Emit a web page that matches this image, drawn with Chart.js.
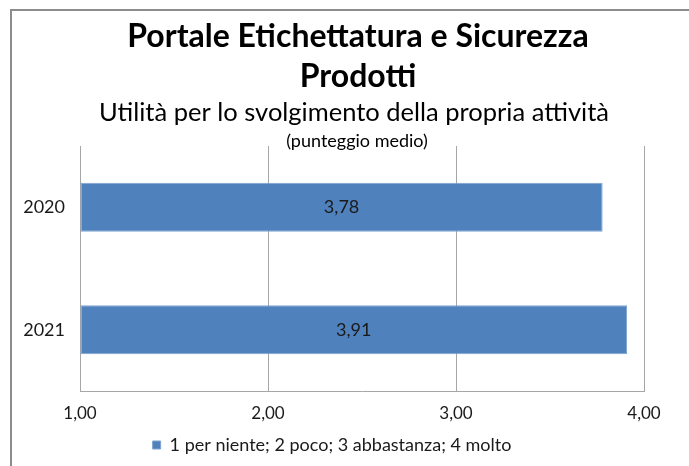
<!DOCTYPE html>
<html>
<head>
<meta charset="utf-8">
<script src="https://cdn.jsdelivr.net/npm/chart.js@4"></script>
<style>
  body { margin: 0; background: #fff; }
  #wrap { position: relative; width: 689px; height: 466px; overflow: hidden; }
  #frame { position: absolute; left: 10px; top: 9px; width: 700px; height: 500px;
           border-left: 2px solid #8c8c8c; border-top: 2px solid #8c8c8c; }
  canvas { position: absolute; left: 0; top: 0; }
</style>
</head>
<body>
<div id="wrap">
  <div id="frame"></div>
  <canvas id="chart" width="689" height="466"></canvas>
</div>
<script>
const categories = ['2020', '2021'];
const scores = [3.78, 3.91];
const tickValues = [1, 2, 3, 4];
const seriesLabel = '1 per niente; 2 poco; 3 abbastanza; 4 molto';

const fontFamily = 'Lato, Carlito, "Open Sans", sans-serif';
const barBlue = '#4f81bd';

const fmt = (v) => v.toFixed(2).replace('.', ',');

// value labels in the bars, the "(punteggio medio)" note, and re-centring of title/legend
const extrasPlugin = {
    id: 'extras',
    afterLayout(chart) {
        chart.boxes.forEach((box) => {
            if (box.position === 'top' && !box.axis) {
                const center = box === chart.titleBlock ? 358 : 354;
                const half = 644 - center;
                box.left = center - half;
                box.right = 644;
                box.width = box.right - box.left;
            }
        });
        const lg = chart.legend;
        if (lg) {
            lg.left = 20;
            lg.right = 644;
            lg.width = lg.right - lg.left;
            lg.top += 5;
            lg.bottom += 5;
        }
    },
    afterDatasetsDraw(chart) {
        const ctx = chart.ctx;
        const meta = chart.getDatasetMeta(0);
        ctx.save();
        ctx.font = '18px ' + fontFamily;
        ctx.fillStyle = '#1a1a1a';
        ctx.textAlign = 'center';
        ctx.textBaseline = 'middle';
        meta.data.forEach((bar, i) => {
            const mid = (bar.x + bar.base) / 2;
            ctx.fillText(fmt(scores[i]), mid, bar.y);
        });
        ctx.restore();
    },
    afterDraw(chart) {
        const ctx = chart.ctx;
        ctx.save();
        ctx.font = '18px ' + fontFamily;
        ctx.fillStyle = '#000';
        ctx.textAlign = 'center';
        ctx.textBaseline = 'middle';
        ctx.fillText('(punteggio medio)', 357, 141);
        ctx.restore();
    }
};

new Chart(document.getElementById('chart'), {
    type: 'bar',
    data: {
        labels: categories,
        datasets: [{
            label: seriesLabel,
            data: scores,
            base: 1,
            backgroundColor: barBlue,
            borderColor: '#7ea3d0',
            borderWidth: 1,
            borderSkipped: false,
            barPercentage: 0.4,
            categoryPercentage: 1.0
        }]
    },
    options: {
        responsive: false,
        animation: false,
        indexAxis: 'y',
        layout: { padding: { left: 0, right: 45, top: 0, bottom: 7 } },
        scales: {
            x: {
                min: 1,
                max: 4,
                afterBuildTicks: (axis) => { axis.ticks = tickValues.map(v => ({ value: v })); },
                afterFit: (axis) => { axis.height = 35; },
                grid: { color: '#a6a6a6', drawTicks: false },
                border: { color: '#a6a6a6' },
                ticks: {
                    padding: 12,
                    color: '#1a1a1a',
                    font: { size: 17, family: fontFamily },
                    callback: (v) => fmt(v)
                }
            },
            y: {
                afterFit: (axis) => { axis.width = 80; },
                grid: { display: false, drawTicks: false },
                border: { display: false },
                ticks: {
                    padding: 15,
                    color: '#1a1a1a',
                    font: { size: 18, family: fontFamily }
                }
            }
        },
        plugins: {
            title: {
                display: true,
                text: ['Portale Etichettatura e Sicurezza', 'Prodotti'],
                color: '#000',
                font: { size: 32, weight: 'bold', family: fontFamily, lineHeight: '40px' },
                padding: { top: 17, bottom: 3 }
            },
            subtitle: {
                display: true,
                text: 'Utilità per lo svolgimento della propria attività',
                color: '#000',
                font: { size: 25.5, family: fontFamily, lineHeight: '26px' },
                padding: { top: 0, bottom: 20 }
            },
            legend: {
                position: 'bottom',
                labels: {
                    boxWidth: 8,
                    boxHeight: 8,
                    padding: 5,
                    color: '#1a1a1a',
                    font: { size: 18, family: fontFamily }
                }
            },
            tooltip: { enabled: false }
        }
    },
    plugins: [extrasPlugin]
});
</script>
</body>
</html>
